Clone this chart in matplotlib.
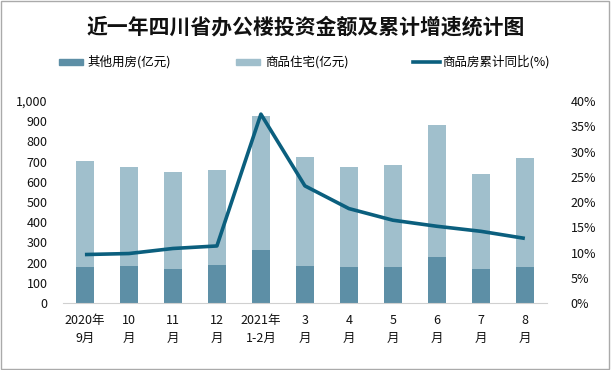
import matplotlib
matplotlib.use("Agg")
import matplotlib.pyplot as plt
from matplotlib.patches import Rectangle
from matplotlib.lines import Line2D
from matplotlib.ticker import FuncFormatter

plt.rcParams['font.family'] = ['Noto Sans CJK SC', 'DejaVu Sans']

months = ["2020年\n9月", "10\n月", "11\n月", "12\n月", "2021年\n1-2月", "3\n月",
          "4\n月", "5\n月", "6\n月", "7\n月", "8\n月"]
other = [178, 183, 168, 189, 262, 184, 179, 179, 227, 168, 178]
housing = [527, 489, 480, 468, 664, 538, 495, 503, 653, 470, 540]
growth = [9.6, 9.8, 10.8, 11.3, 37.4, 23.2, 18.7, 16.4, 15.2, 14.2, 12.8]

c_other = "#5d8fa6"
c_house = "#a0bfcc"
c_line = "#0b5f7e"

fig = plt.figure(figsize=(6.11, 3.70), dpi=100)
ax = fig.add_axes([0.103, 0.181, 0.792, 0.546])
ax2 = ax.twinx()

x = list(range(len(months)))
ax.bar(x, other, width=0.41, color=c_other, zorder=2)
ax.bar(x, housing, width=0.41, bottom=other, color=c_house, zorder=2)
ax2.plot(x, growth, color=c_line, lw=2.6, solid_capstyle='butt')

ax.set_xlim(-0.5, len(months) - 0.5)
ax.set_ylim(0, 1000)
ax.set_yticks(range(0, 1001, 100))
ax.yaxis.set_major_formatter(FuncFormatter(lambda v, p: f"{int(v):,}"))
ax2.set_ylim(0, 40)
ax2.set_yticks(range(0, 41, 5))
ax2.yaxis.set_major_formatter(FuncFormatter(lambda v, p: f"{int(v)}%"))
ax.set_xticks(x)
ax.set_xticklabels(months, linespacing=1.45)

for a in (ax, ax2):
    for s in a.spines.values():
        s.set_visible(False)
    a.tick_params(length=0, labelsize=9, colors="#111111")
ax.spines['bottom'].set_visible(True)
ax.spines['bottom'].set_color("#d0d0d0")
ax.tick_params(axis='x', pad=8)
ax.tick_params(axis='y', pad=11)
ax2.tick_params(axis='y', pad=17)

fig.text(0.5, 1 - 27 / 370, "近一年四川省办公楼投资金额及累计增速统计图", ha='center', va='center',
         fontsize=15, fontweight='bold', color="#111111")

ly = 1 - 62 / 370
fig.patches.append(Rectangle((59 / 611, ly - 3 / 370), 24 / 611, 6 / 370,
                             transform=fig.transFigure, color=c_other))
fig.text(87 / 611, ly, "其他用房(亿元)", va='center', fontsize=9)
fig.patches.append(Rectangle((236 / 611, ly - 3 / 370), 24 / 611, 6 / 370,
                             transform=fig.transFigure, color=c_house))
fig.text(265 / 611, ly, "商品住宅(亿元)", va='center', fontsize=9)
fig.lines.append(Line2D([413 / 611, 440 / 611], [ly, ly], transform=fig.transFigure,
                        color=c_line, lw=2.6))
fig.text(442 / 611, ly, "商品房累计同比(%)", va='center', fontsize=9)

fig.patches.append(Rectangle((0.002, 0.003), 0.995, 0.993, transform=fig.transFigure,
                             fill=False, edgecolor="#aaaaaa", lw=1))

fig.savefig("out.png", dpi=100)
